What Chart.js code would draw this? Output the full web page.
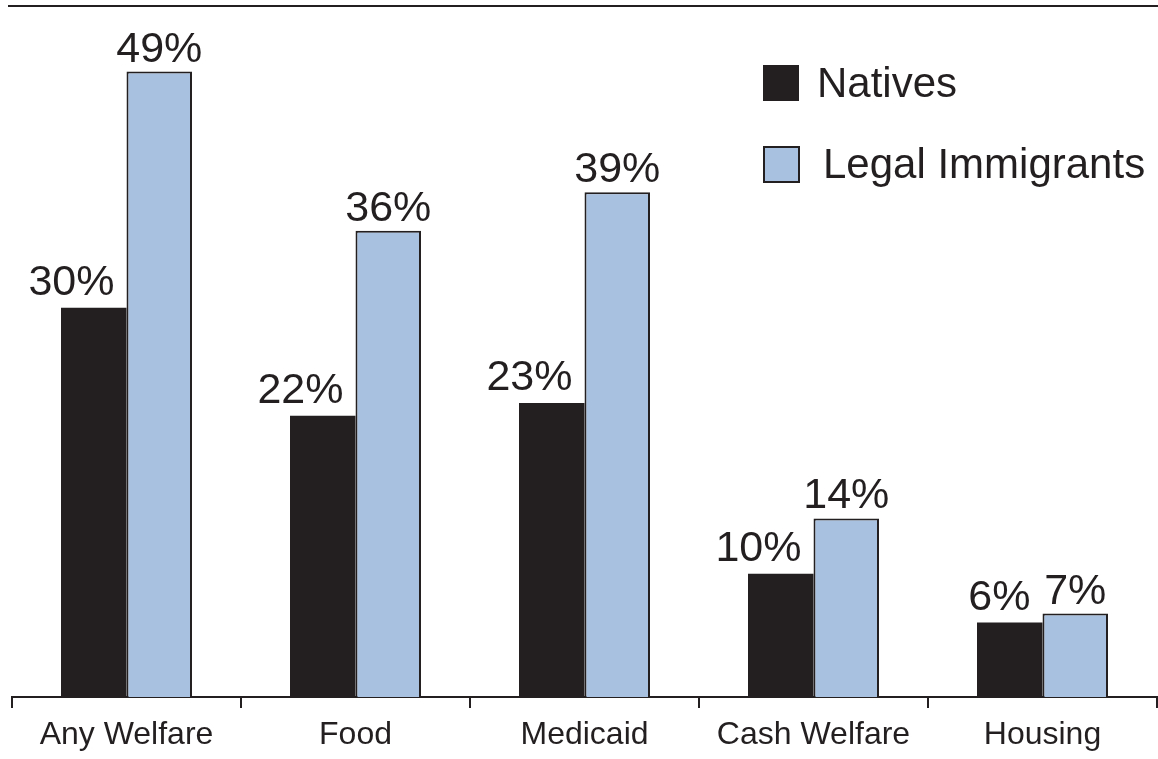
<!DOCTYPE html>
<html>
<head>
<meta charset="utf-8">
<script src="https://cdn.jsdelivr.net/npm/chart.js@4/dist/chart.umd.min.js"></script>
<style>
  html, body { margin: 0; padding: 0; background: #fff; }
  #wrap { width: 1158px; height: 759px; position: relative; }
</style>
</head>
<body>
<div id="wrap"><canvas id="welfareChart"></canvas></div>
<script>
// Data
const categories = ['Any Welfare', 'Food', 'Medicaid', 'Cash Welfare', 'Housing'];
const seriesNames = ['Natives', 'Legal Immigrants'];
const nativesRates = [30.3, 21.9, 22.9, 9.6, 5.8];
const immigrantRates = [48.7, 36.3, 39.3, 13.9, 6.5];

const ink = '#231f20';
const blue = '#a8c1e0';
const font = '"Liberation Sans", Arial, sans-serif';

// Percent labels above the bars; natives labels sit a bit to the left
const valueLabels = {
    id: 'valueLabels',
    afterDatasetsDraw(chart) {
        const ctx = chart.ctx;
        ctx.save();
        ctx.fillStyle = ink;
        ctx.font = '43px ' + font;
        ctx.textBaseline = 'alphabetic';
        chart.data.datasets.forEach((ds, i) => {
            chart.getDatasetMeta(i).data.forEach((bar, j) => {
                const p = bar.getProps(['x', 'y', 'width'], true);
                const txt = Math.round(ds.data[j]) + '%';
                if (i === 0) {
                    ctx.textAlign = 'right';
                    ctx.fillText(txt, p.x + p.width / 2 - 12, p.y - 13);
                } else {
                    ctx.textAlign = 'center';
                    ctx.fillText(txt, p.x, p.y - 10);
                }
            });
        });
        ctx.restore();
    }
};

// Legend in the top right corner plus the rule across the top
const sideLegend = {
    id: 'sideLegend',
    afterDraw(chart) {
        const ctx = chart.ctx;
        ctx.save();
        ctx.strokeStyle = ink;
        ctx.lineWidth = 2;
        ctx.beginPath();
        ctx.moveTo(8, 6);
        ctx.lineTo(chart.width, 6);
        ctx.stroke();

        ctx.font = '42px ' + font;
        ctx.textAlign = 'left';
        ctx.textBaseline = 'middle';
        const rows = [{ y: 65, tx: 817 }, { y: 146, tx: 823 }];
        chart.data.datasets.forEach((ds, i) => {
            const r = rows[i];
            ctx.fillStyle = ds.backgroundColor;
            ctx.fillRect(763, r.y, 36, 36);
            if (i === 1) {
                ctx.lineWidth = 2;
                ctx.strokeRect(764, r.y + 1, 35, 35);
            }
            ctx.fillStyle = ink;
            ctx.fillText(ds.label, r.tx, r.y + 20);
        });
        ctx.restore();
    }
};

const config = {
    type: 'bar',
    data: {
        labels: categories,
        datasets: [{
            label: seriesNames[0],
            data: nativesRates,
            backgroundColor: ink,
            borderWidth: 0
        }, {
            label: seriesNames[1],
            data: immigrantRates,
            backgroundColor: blue,
            borderColor: ink,
            borderWidth: 2
        }]
    },
    options: {
        responsive: true,
        maintainAspectRatio: false,
        animation: false,
        layout: { padding: { left: 12, right: 1, top: 6, bottom: 0 } },
        datasets: {
            bar: { categoryPercentage: 0.572, barPercentage: 1.0 }
        },
        plugins: {
            legend: { display: false },
            tooltip: { enabled: false }
        },
        scales: {
            x: {
                grid: {
                    offset: true,
                    drawOnChartArea: false,
                    drawTicks: true,
                    tickLength: 11,
                    color: ink,
                    lineWidth: 2
                },
                border: { display: true, color: ink, width: 2 },
                ticks: {
                    color: ink,
                    font: { family: font, size: 32 },
                    padding: 8,
                    maxRotation: 0
                },
                afterFit: (s) => { s.height = 62; }
            },
            y: {
                display: false,
                min: 0,
                max: 53.8
            }
        }
    },
    plugins: [valueLabels, sideLegend]
};

window.onload = () => {
    const ctx = document.getElementById('welfareChart').getContext('2d');
    new Chart(ctx, config);
};
</script>
</body>
</html>
